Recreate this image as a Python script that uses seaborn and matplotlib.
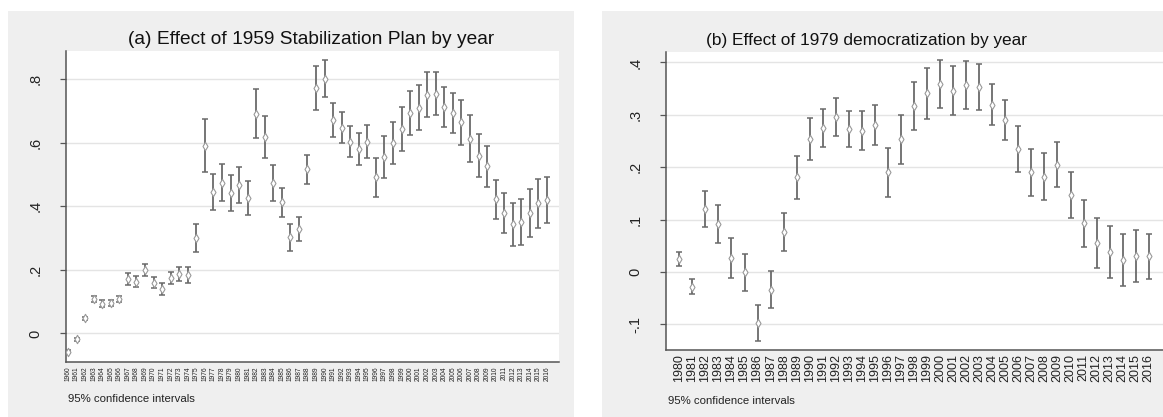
import numpy as np
import pandas as pd
import matplotlib
matplotlib.use("Agg")
import matplotlib.pyplot as plt
from matplotlib.patches import Rectangle
import seaborn as sns

# ---------------- data ----------------
years_a = list(range(1960, 2017))
est_a = [-0.058, -0.019, 0.047, 0.109, 0.094, 0.096, 0.109, 0.171, 0.163, 0.199,
         0.160, 0.140, 0.174, 0.187, 0.185, 0.299, 0.591, 0.446, 0.474, 0.441,
         0.467, 0.426, 0.692, 0.618, 0.474, 0.413, 0.302, 0.328, 0.517, 0.773,
         0.802, 0.672, 0.648, 0.603, 0.580, 0.603, 0.491, 0.556, 0.600, 0.643,
         0.693, 0.711, 0.752, 0.754, 0.714, 0.694, 0.665, 0.613, 0.559, 0.526,
         0.422, 0.379, 0.343, 0.351, 0.379, 0.410, 0.420]
ci_a = [0.005, 0.006, 0.006, 0.009, 0.010, 0.009, 0.010, 0.018, 0.017, 0.018,
        0.018, 0.019, 0.019, 0.021, 0.025, 0.044, 0.083, 0.056, 0.058, 0.057,
        0.056, 0.054, 0.076, 0.067, 0.057, 0.046, 0.042, 0.037, 0.046, 0.069,
        0.058, 0.053, 0.050, 0.049, 0.050, 0.052, 0.062, 0.066, 0.067, 0.070,
        0.069, 0.070, 0.071, 0.068, 0.063, 0.063, 0.071, 0.073, 0.068, 0.064,
        0.061, 0.063, 0.067, 0.072, 0.077, 0.077, 0.072]

years_b = list(range(1980, 2017))
est_b = [0.025, -0.028, 0.120, 0.091, 0.026, -0.001, -0.097, -0.034, 0.076,
         0.181, 0.254, 0.275, 0.296, 0.273, 0.270, 0.281,
         0.190, 0.253, 0.317, 0.341, 0.359, 0.346, 0.357, 0.354, 0.319, 0.290,
         0.235, 0.190, 0.182, 0.205, 0.147,
         0.093, 0.055, 0.038, 0.023, 0.031, 0.030]
ci_b = [0.014, 0.014, 0.035, 0.036, 0.038, 0.036, 0.034, 0.035, 0.036,
        0.041, 0.040, 0.036, 0.037, 0.035, 0.037, 0.038,
        0.046, 0.046, 0.046, 0.048, 0.046, 0.047, 0.046, 0.044, 0.039, 0.038,
        0.044, 0.045, 0.045, 0.043, 0.044,
        0.045, 0.048, 0.050, 0.050, 0.050, 0.043]

title_a = "(a) Effect of 1959 Stabilization Plan by year"
title_b = "(b) Effect of 1979 democratization by year"
yticks_a = [0, 0.2, 0.4, 0.6, 0.8]
yticklabels_a = ["0", ".2", ".4", ".6", ".8"]
yticks_b = [-0.1, 0, 0.1, 0.2, 0.3, 0.4]
yticklabels_b = ["-.1", "0", ".1", ".2", ".3", ".4"]
note = "95% confidence intervals"

# ---------------- style ----------------
sns.set_theme(style="white")
plt.rcParams["font.family"] = ["Liberation Sans", "DejaVu Sans"]

W, H = 1163, 417
fig = plt.figure(figsize=(W / 100, H / 100), dpi=100)
fig.patch.set_facecolor("white")

BG = "#efefef"
fig.patches.append(Rectangle((8 / W, 0), (574 - 8) / W, (417 - 11) / H,
                             transform=fig.transFigure, facecolor=BG,
                             edgecolor="none", zorder=-10))
fig.patches.append(Rectangle((602 / W, 0), (1163 - 602) / W, (417 - 11) / H,
                             transform=fig.transFigure, facecolor=BG,
                             edgecolor="none", zorder=-10))


def panel(rect, years, est, ci, title, yt, ytl, ylim, xpad, xfont,
          title_x, title_size):
    ax = fig.add_axes(rect)
    ax.set_facecolor("white")
    df = pd.DataFrame({"pos": np.arange(len(years)), "est": est, "ci": ci})
    ax.errorbar(df["pos"], df["est"], yerr=df["ci"], fmt="none",
                ecolor="#6a6a6a", elinewidth=1.3, capsize=2.4,
                capthick=1.1, zorder=3)
    sns.scatterplot(data=df, x="pos", y="est", ax=ax, marker="d", s=18,
                    facecolor="white", edgecolor="#999999", linewidth=0.8,
                    zorder=4, legend=False)
    ax.set_ylim(*ylim)
    ax.set_xlim(*xpad)
    ax.set_yticks(yt)
    ax.set_yticklabels(ytl, rotation=90, va="center", fontsize=10.5,
                       color="#222222")
    ax.set_xticks(df["pos"])
    ax.set_xticklabels([str(y) for y in years], rotation=90, fontsize=xfont,
                       color="#222222")
    ax.tick_params(axis="y", length=4, width=0.9, color="#555555", pad=13,
                   left=True)
    ax.tick_params(axis="x", length=0, pad=3)
    ax.grid(axis="y", color="#e4e4e4", linewidth=1.0, zorder=0)
    ax.set_axisbelow(True)
    for s in ["top", "right"]:
        ax.spines[s].set_visible(False)
    for s in ["left", "bottom"]:
        ax.spines[s].set_color("#555555")
        ax.spines[s].set_linewidth(1.1)
    ax.set_xlabel("")
    ax.set_ylabel("")
    fig.text(title_x / W, (H - 40) / H, title, ha="center", va="center",
             fontsize=title_size, color="#111111")
    return ax


# panel a: axes 66..559 x, 51..362 y
ax_a = panel([66 / W, (H - 362) / H, (559 - 66) / W, (362 - 51) / H],
             years_a, est_a, ci_a, title_a, yticks_a, yticklabels_a,
             (-0.09, 0.889), (-0.23, 57.4), 4.8, 311, 13.8)
# panel b: axes 666..1163 x, 52..350 y
ax_b = panel([666 / W, (H - 350) / H, (1163 - 666) / W, (350 - 52) / H],
             years_b, est_b, ci_b, title_b, yticks_b, yticklabels_b,
             (-0.149, 0.42), (-1.02, 37.09), 9, 866, 12.4)

fig.text(68 / W, (H - 399) / H, note, ha="left", va="center", fontsize=8.2,
         color="#222222")
fig.text(668 / W, (H - 401) / H, note, ha="left", va="center", fontsize=8.2,
         color="#222222")

fig.savefig("out.png", dpi=100, facecolor="white")
